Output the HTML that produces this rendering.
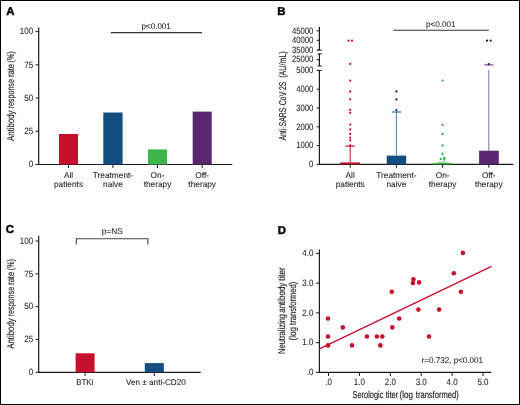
<!DOCTYPE html>
<html><head><meta charset="utf-8"><style>
html,body{margin:0;padding:0;background:#fff;}
body{width:520px;height:405px;overflow:hidden;}
svg{display:block;will-change:transform;text-rendering:geometricPrecision;}
text{stroke:#231f20;stroke-width:0.08px;}
text.ti{stroke-width:0.18px;}
svg{font-family:"Liberation Sans",sans-serif;}
</style></head><body>
<svg width="520" height="405" viewBox="0 0 520 405">
<rect x="0" y="0" width="520" height="405" fill="#fff"/>
<text x="6.3" y="15" font-size="11.4" text-anchor="start" fill="#000" font-weight="bold" style="stroke:#000;stroke-width:0.45px">A</text>
<line x1="38.7" y1="27.5" x2="38.7" y2="165.0" stroke="#1a1a1a" stroke-width="1.2" />
<line x1="38.1" y1="164.5" x2="232.3" y2="164.5" stroke="#1a1a1a" stroke-width="1.2" />
<line x1="35.5" y1="164.5" x2="38.7" y2="164.5" stroke="#1a1a1a" stroke-width="1" />
<text x="33.1" y="167.25" font-size="9.1" text-anchor="end" fill="#231f20" textLength="4.45" lengthAdjust="spacingAndGlyphs">0</text>
<line x1="35.5" y1="131.275" x2="38.7" y2="131.275" stroke="#1a1a1a" stroke-width="1" />
<text x="33.1" y="134.025" font-size="9.1" text-anchor="end" fill="#231f20" textLength="8.90" lengthAdjust="spacingAndGlyphs">25</text>
<line x1="35.5" y1="98.05" x2="38.7" y2="98.05" stroke="#1a1a1a" stroke-width="1" />
<text x="33.1" y="100.8" font-size="9.1" text-anchor="end" fill="#231f20" textLength="8.90" lengthAdjust="spacingAndGlyphs">50</text>
<line x1="35.5" y1="64.82499999999999" x2="38.7" y2="64.82499999999999" stroke="#1a1a1a" stroke-width="1" />
<text x="33.1" y="67.57499999999999" font-size="9.1" text-anchor="end" fill="#231f20" textLength="8.90" lengthAdjust="spacingAndGlyphs">75</text>
<line x1="35.5" y1="31.599999999999994" x2="38.7" y2="31.599999999999994" stroke="#1a1a1a" stroke-width="1" />
<text x="33.1" y="34.349999999999994" font-size="9.1" text-anchor="end" fill="#231f20" textLength="13.35" lengthAdjust="spacingAndGlyphs">100</text>
<rect x="59" y="134" width="19" height="30.5" fill="#c8102e"/>
<line x1="68.5" y1="164.5" x2="68.5" y2="168" stroke="#1a1a1a" stroke-width="1" />
<rect x="103.3" y="112.5" width="19.299999999999997" height="52.0" fill="#144e80"/>
<line x1="112.94999999999999" y1="164.5" x2="112.94999999999999" y2="168" stroke="#1a1a1a" stroke-width="1" />
<rect x="148" y="149.4" width="19" height="15.099999999999994" fill="#3db54a"/>
<line x1="157.5" y1="164.5" x2="157.5" y2="168" stroke="#1a1a1a" stroke-width="1" />
<rect x="192.7" y="111.6" width="19.0" height="52.900000000000006" fill="#5b2670"/>
<line x1="202.2" y1="164.5" x2="202.2" y2="168" stroke="#1a1a1a" stroke-width="1" />
<text x="68.5" y="177.5" font-size="8.3" text-anchor="middle" fill="#231f20" >All</text>
<text x="68.5" y="186.6" font-size="8.3" text-anchor="middle" fill="#231f20" >patients</text>
<text x="112.94999999999999" y="177.5" font-size="8.3" text-anchor="middle" fill="#231f20" >Treatment-</text>
<text x="112.94999999999999" y="186.6" font-size="8.3" text-anchor="middle" fill="#231f20" >naive</text>
<text x="157.5" y="177.5" font-size="8.3" text-anchor="middle" fill="#231f20" >On-</text>
<text x="157.5" y="186.6" font-size="8.3" text-anchor="middle" fill="#231f20" >therapy</text>
<text x="202.2" y="177.5" font-size="8.3" text-anchor="middle" fill="#231f20" >Off-</text>
<text x="202.2" y="186.6" font-size="8.3" text-anchor="middle" fill="#231f20" >therapy</text>
<line x1="110.8" y1="32.6" x2="202" y2="32.6" stroke="#333" stroke-width="1.1" />
<text x="156.2" y="29.0" font-size="8.3" text-anchor="middle" fill="#231f20"  textLength="29.2" lengthAdjust="spacingAndGlyphs">p&lt;0.001</text>
<text class="ti" transform="translate(14.0,125.7) rotate(-90)" font-size="9.9" text-anchor="middle" fill="#231f20" textLength="30.4" lengthAdjust="spacingAndGlyphs">Antibody</text>
<text class="ti" transform="translate(14.0,93.8) rotate(-90)" font-size="9.9" text-anchor="middle" fill="#231f20" textLength="29.4" lengthAdjust="spacingAndGlyphs">response</text>
<text class="ti" transform="translate(14.0,70.55) rotate(-90)" font-size="9.9" text-anchor="middle" fill="#231f20" textLength="13.1" lengthAdjust="spacingAndGlyphs">rate</text>
<text class="ti" transform="translate(14.0,56.9) rotate(-90)" font-size="9.9" text-anchor="middle" fill="#231f20" textLength="11.0" lengthAdjust="spacingAndGlyphs">(%)</text>
<text x="277.3" y="15" font-size="11.4" text-anchor="start" fill="#000" font-weight="bold" style="stroke:#000;stroke-width:0.45px">B</text>
<line x1="319.4" y1="26.7" x2="319.4" y2="50.1" stroke="#1a1a1a" stroke-width="1.2" />
<line x1="319.4" y1="53.8" x2="319.4" y2="66.0" stroke="#1a1a1a" stroke-width="1.2" />
<line x1="319.4" y1="70.4" x2="319.4" y2="164.9" stroke="#1a1a1a" stroke-width="1.2" />
<line x1="317.59999999999997" y1="50.1" x2="321.79999999999995" y2="50.1" stroke="#1a1a1a" stroke-width="1" />
<line x1="317.59999999999997" y1="53.8" x2="321.79999999999995" y2="53.8" stroke="#1a1a1a" stroke-width="1" />
<line x1="317.59999999999997" y1="66.0" x2="321.79999999999995" y2="66.0" stroke="#1a1a1a" stroke-width="1" />
<line x1="317.59999999999997" y1="70.4" x2="321.79999999999995" y2="70.4" stroke="#1a1a1a" stroke-width="1" />
<line x1="316.6" y1="30.8" x2="319.4" y2="30.8" stroke="#1a1a1a" stroke-width="1" />
<text x="313.4" y="33.55" font-size="9.1" text-anchor="end" fill="#231f20" textLength="21.50" lengthAdjust="spacingAndGlyphs">45000</text>
<line x1="316.6" y1="40.3" x2="319.4" y2="40.3" stroke="#1a1a1a" stroke-width="1" />
<text x="313.4" y="43.05" font-size="9.1" text-anchor="end" fill="#231f20" textLength="21.50" lengthAdjust="spacingAndGlyphs">40000</text>
<line x1="316.6" y1="50.1" x2="319.4" y2="50.1" stroke="#1a1a1a" stroke-width="1" />
<text x="313.4" y="52.85" font-size="9.1" text-anchor="end" fill="#231f20" textLength="21.50" lengthAdjust="spacingAndGlyphs">35000</text>
<line x1="316.6" y1="59.7" x2="319.4" y2="59.7" stroke="#1a1a1a" stroke-width="1" />
<text x="313.4" y="62.45" font-size="9.1" text-anchor="end" fill="#231f20" textLength="21.50" lengthAdjust="spacingAndGlyphs">25000</text>
<line x1="316.6" y1="70.4" x2="319.4" y2="70.4" stroke="#1a1a1a" stroke-width="1" />
<text x="313.4" y="73.15" font-size="9.1" text-anchor="end" fill="#231f20" textLength="17.20" lengthAdjust="spacingAndGlyphs">5000</text>
<line x1="316.6" y1="89.2" x2="319.4" y2="89.2" stroke="#1a1a1a" stroke-width="1" />
<text x="313.4" y="91.95" font-size="9.1" text-anchor="end" fill="#231f20" textLength="17.20" lengthAdjust="spacingAndGlyphs">4000</text>
<line x1="316.6" y1="108.0" x2="319.4" y2="108.0" stroke="#1a1a1a" stroke-width="1" />
<text x="313.4" y="110.75" font-size="9.1" text-anchor="end" fill="#231f20" textLength="17.20" lengthAdjust="spacingAndGlyphs">3000</text>
<line x1="316.6" y1="126.80000000000001" x2="319.4" y2="126.80000000000001" stroke="#1a1a1a" stroke-width="1" />
<text x="313.4" y="129.55" font-size="9.1" text-anchor="end" fill="#231f20" textLength="17.20" lengthAdjust="spacingAndGlyphs">2000</text>
<line x1="316.6" y1="145.6" x2="319.4" y2="145.6" stroke="#1a1a1a" stroke-width="1" />
<text x="313.4" y="148.35" font-size="9.1" text-anchor="end" fill="#231f20" textLength="17.20" lengthAdjust="spacingAndGlyphs">1000</text>
<line x1="316.6" y1="164.4" x2="319.4" y2="164.4" stroke="#1a1a1a" stroke-width="1" />
<text x="313.4" y="167.15" font-size="9.1" text-anchor="end" fill="#231f20" textLength="4.30" lengthAdjust="spacingAndGlyphs">0</text>
<line x1="318.79999999999995" y1="164.4" x2="513.3" y2="164.4" stroke="#1a1a1a" stroke-width="1.2" />
<rect x="340.2" y="162.4" width="19.80000000000001" height="2.0" fill="#c8102e"/>
<rect x="386.7" y="155.6" width="19.5" height="8.800000000000011" fill="#144e80"/>
<rect x="433" y="162.9" width="19.19999999999999" height="1.5" fill="#3db54a"/>
<rect x="479.1" y="150.7" width="19.69999999999999" height="13.700000000000017" fill="#5b2670"/>
<line x1="350.2" y1="164.4" x2="350.2" y2="167.8" stroke="#1a1a1a" stroke-width="1" />
<line x1="396.4" y1="164.4" x2="396.4" y2="167.8" stroke="#1a1a1a" stroke-width="1" />
<line x1="442.6" y1="164.4" x2="442.6" y2="167.8" stroke="#1a1a1a" stroke-width="1" />
<line x1="488.8" y1="164.4" x2="488.8" y2="167.8" stroke="#1a1a1a" stroke-width="1" />
<text x="350.2" y="177.5" font-size="8.3" text-anchor="middle" fill="#231f20" >All</text>
<text x="350.2" y="186.6" font-size="8.3" text-anchor="middle" fill="#231f20" >patients</text>
<text x="396.4" y="177.5" font-size="8.3" text-anchor="middle" fill="#231f20" >Treatment-</text>
<text x="396.4" y="186.6" font-size="8.3" text-anchor="middle" fill="#231f20" >naive</text>
<text x="442.6" y="177.5" font-size="8.3" text-anchor="middle" fill="#231f20" >On-</text>
<text x="442.6" y="186.6" font-size="8.3" text-anchor="middle" fill="#231f20" >therapy</text>
<text x="488.8" y="177.5" font-size="8.3" text-anchor="middle" fill="#231f20" >Off-</text>
<text x="488.8" y="186.6" font-size="8.3" text-anchor="middle" fill="#231f20" >therapy</text>
<line x1="350.2" y1="146.1" x2="350.2" y2="162.4" stroke="#c8102e" stroke-width="1" />
<line x1="345.4" y1="146.1" x2="354.8" y2="146.1" stroke="#c8102e" stroke-width="1.2" />
<line x1="396.4" y1="112" x2="396.4" y2="155.6" stroke="#4f7fae" stroke-width="1" />
<line x1="391.8" y1="112" x2="401" y2="112" stroke="#4f7fae" stroke-width="1.4" />
<line x1="488.8" y1="70" x2="488.8" y2="150.7" stroke="#8c66a6" stroke-width="1" />
<line x1="484.3" y1="64.9" x2="493.5" y2="64.9" stroke="#8c66a6" stroke-width="1.4" />
<line x1="438" y1="162.1" x2="447" y2="162.1" stroke="#7ccf85" stroke-width="1" />
<circle cx="350.2" cy="63.9" r="1.15" fill="#c8102e"/>
<circle cx="350.2" cy="80.7" r="1.15" fill="#c8102e"/>
<circle cx="350.2" cy="91.5" r="1.15" fill="#c8102e"/>
<circle cx="350.2" cy="99.3" r="1.15" fill="#c8102e"/>
<circle cx="350.2" cy="109.8" r="1.15" fill="#c8102e"/>
<circle cx="350.2" cy="112.8" r="1.15" fill="#c8102e"/>
<circle cx="350.2" cy="124.6" r="1.15" fill="#c8102e"/>
<circle cx="350.2" cy="129.4" r="1.15" fill="#c8102e"/>
<circle cx="350.2" cy="133.9" r="1.15" fill="#c8102e"/>
<circle cx="350.2" cy="137.6" r="1.15" fill="#c8102e"/>
<circle cx="350.2" cy="140.4" r="1.15" fill="#c8102e"/>
<circle cx="350.2" cy="145.4" r="1.15" fill="#c8102e"/>
<circle cx="348.5" cy="40.7" r="1.15" fill="#c8102e"/>
<circle cx="352" cy="40.7" r="1.15" fill="#c8102e"/>
<circle cx="396.4" cy="91.5" r="1.15" fill="#0d2b5e"/>
<circle cx="396.4" cy="99.5" r="1.15" fill="#0d2b5e"/>
<circle cx="396.4" cy="110.1" r="1.15" fill="#0d2b5e"/>
<circle cx="442.6" cy="80.6" r="1.15" fill="#2fab40"/>
<circle cx="442.6" cy="124.8" r="1.15" fill="#2fab40"/>
<circle cx="442.6" cy="134" r="1.15" fill="#2fab40"/>
<circle cx="442.6" cy="145.5" r="1.15" fill="#2fab40"/>
<circle cx="442.6" cy="154" r="1.15" fill="#2fab40"/>
<circle cx="440.8" cy="158.9" r="1.15" fill="#2fab40"/>
<circle cx="444.3" cy="157.7" r="1.15" fill="#2fab40"/>
<circle cx="444.3" cy="159.5" r="1.15" fill="#2fab40"/>
<circle cx="487" cy="40.7" r="1.15" fill="#3d1052"/>
<circle cx="490.6" cy="40.7" r="1.15" fill="#3d1052"/>
<circle cx="488.8" cy="64.2" r="1.15" fill="#3d1052"/>
<line x1="393.2" y1="30.3" x2="488.9" y2="30.3" stroke="#333" stroke-width="1.1" />
<text x="440.7" y="27.1" font-size="8.3" text-anchor="middle" fill="#231f20"  textLength="29.6" lengthAdjust="spacingAndGlyphs">p&lt;0.001</text>
<text class="ti" transform="translate(285.7,111.1) rotate(-90)" font-size="9.9" text-anchor="middle" fill="#231f20" textLength="59.0" lengthAdjust="spacingAndGlyphs">Anti<tspan fill-opacity="0.45" stroke-opacity="0.45">-</tspan>SARS<tspan fill-opacity="0.45" stroke-opacity="0.45">-</tspan>CoV<tspan fill-opacity="0.45" stroke-opacity="0.45">-</tspan>2S</text>
<text class="ti" transform="translate(285.7,64.55) rotate(-90)" font-size="9.9" text-anchor="middle" fill="#231f20" textLength="26.6" lengthAdjust="spacingAndGlyphs">(AU/mL)</text>
<text x="5.7" y="233.2" font-size="11.4" text-anchor="start" fill="#000" font-weight="bold" style="stroke:#000;stroke-width:0.45px">C</text>
<line x1="38.7" y1="235.7" x2="38.7" y2="372.8" stroke="#1a1a1a" stroke-width="1.2" />
<line x1="38.1" y1="372.3" x2="200.8" y2="372.3" stroke="#1a1a1a" stroke-width="1.2" />
<line x1="35.5" y1="372.3" x2="38.7" y2="372.3" stroke="#1a1a1a" stroke-width="1" />
<text x="33.1" y="375.05" font-size="9.1" text-anchor="end" fill="#231f20" textLength="4.45" lengthAdjust="spacingAndGlyphs">0</text>
<line x1="35.5" y1="339.475" x2="38.7" y2="339.475" stroke="#1a1a1a" stroke-width="1" />
<text x="33.1" y="342.225" font-size="9.1" text-anchor="end" fill="#231f20" textLength="8.90" lengthAdjust="spacingAndGlyphs">25</text>
<line x1="35.5" y1="306.65" x2="38.7" y2="306.65" stroke="#1a1a1a" stroke-width="1" />
<text x="33.1" y="309.4" font-size="9.1" text-anchor="end" fill="#231f20" textLength="8.90" lengthAdjust="spacingAndGlyphs">50</text>
<line x1="35.5" y1="273.825" x2="38.7" y2="273.825" stroke="#1a1a1a" stroke-width="1" />
<text x="33.1" y="276.575" font-size="9.1" text-anchor="end" fill="#231f20" textLength="8.90" lengthAdjust="spacingAndGlyphs">75</text>
<line x1="35.5" y1="241.0" x2="38.7" y2="241.0" stroke="#1a1a1a" stroke-width="1" />
<text x="33.1" y="243.75" font-size="9.1" text-anchor="end" fill="#231f20" textLength="13.35" lengthAdjust="spacingAndGlyphs">100</text>
<rect x="75.6" y="353.3" width="19" height="19.0" fill="#c8102e"/>
<rect x="144.8" y="363.1" width="19" height="9.199999999999989" fill="#144e80"/>
<line x1="85.1" y1="372.3" x2="85.1" y2="376" stroke="#1a1a1a" stroke-width="1" />
<line x1="154.3" y1="372.3" x2="154.3" y2="376" stroke="#1a1a1a" stroke-width="1" />
<text x="84.8" y="384.7" font-size="8.3" text-anchor="middle" fill="#231f20"  textLength="17.2" lengthAdjust="spacingAndGlyphs">BTKi</text>
<text x="155.9" y="384.7" font-size="8.3" text-anchor="middle" fill="#231f20"  textLength="59.7" lengthAdjust="spacingAndGlyphs">Ven ± anti-CD20</text>
<path d="M76.3,244.6 V238.7 H147.9 V244.6" fill="none" stroke="#444" stroke-width="1.1"/>
<text x="112.2" y="233.8" font-size="8.3" text-anchor="middle" fill="#231f20"  textLength="21" lengthAdjust="spacingAndGlyphs">p=NS</text>
<text class="ti" transform="translate(14.0,333.5) rotate(-90)" font-size="9.9" text-anchor="middle" fill="#231f20" textLength="30.4" lengthAdjust="spacingAndGlyphs">Antibody</text>
<text class="ti" transform="translate(14.0,301.6) rotate(-90)" font-size="9.9" text-anchor="middle" fill="#231f20" textLength="29.4" lengthAdjust="spacingAndGlyphs">response</text>
<text class="ti" transform="translate(14.0,278.35) rotate(-90)" font-size="9.9" text-anchor="middle" fill="#231f20" textLength="13.1" lengthAdjust="spacingAndGlyphs">rate</text>
<text class="ti" transform="translate(14.0,264.7) rotate(-90)" font-size="9.9" text-anchor="middle" fill="#231f20" textLength="11.0" lengthAdjust="spacingAndGlyphs">(%)</text>
<text x="277.7" y="234.4" font-size="11.4" text-anchor="start" fill="#000" font-weight="bold" style="stroke:#000;stroke-width:0.45px">D</text>
<line x1="319.4" y1="249.6" x2="319.4" y2="372.9" stroke="#1a1a1a" stroke-width="1.2" />
<line x1="318.79999999999995" y1="372.4" x2="491.3" y2="372.4" stroke="#1a1a1a" stroke-width="1.2" />
<line x1="315.9" y1="372.4" x2="319.4" y2="372.4" stroke="#1a1a1a" stroke-width="1" />
<text x="313.4" y="375.15" font-size="9.1" text-anchor="end" fill="#231f20" textLength="6.65" lengthAdjust="spacingAndGlyphs">.0</text>
<line x1="315.9" y1="342.65" x2="319.4" y2="342.65" stroke="#1a1a1a" stroke-width="1" />
<text x="313.4" y="345.4" font-size="9.1" text-anchor="end" fill="#231f20" textLength="11.10" lengthAdjust="spacingAndGlyphs">1.0</text>
<line x1="315.9" y1="312.9" x2="319.4" y2="312.9" stroke="#1a1a1a" stroke-width="1" />
<text x="313.4" y="315.65" font-size="9.1" text-anchor="end" fill="#231f20" textLength="11.10" lengthAdjust="spacingAndGlyphs">2.0</text>
<line x1="315.9" y1="283.15" x2="319.4" y2="283.15" stroke="#1a1a1a" stroke-width="1" />
<text x="313.4" y="285.9" font-size="9.1" text-anchor="end" fill="#231f20" textLength="11.10" lengthAdjust="spacingAndGlyphs">3.0</text>
<line x1="315.9" y1="253.39999999999998" x2="319.4" y2="253.39999999999998" stroke="#1a1a1a" stroke-width="1" />
<text x="313.4" y="256.15" font-size="9.1" text-anchor="end" fill="#231f20" textLength="11.10" lengthAdjust="spacingAndGlyphs">4.0</text>
<line x1="328.5" y1="372.4" x2="328.5" y2="376" stroke="#1a1a1a" stroke-width="1" />
<text x="328.5" y="385.2" font-size="9.1" text-anchor="middle" fill="#231f20" textLength="6.65" lengthAdjust="spacingAndGlyphs">.0</text>
<line x1="359.4" y1="372.4" x2="359.4" y2="376" stroke="#1a1a1a" stroke-width="1" />
<text x="359.4" y="385.2" font-size="9.1" text-anchor="middle" fill="#231f20" textLength="11.10" lengthAdjust="spacingAndGlyphs">1.0</text>
<line x1="390.3" y1="372.4" x2="390.3" y2="376" stroke="#1a1a1a" stroke-width="1" />
<text x="390.3" y="385.2" font-size="9.1" text-anchor="middle" fill="#231f20" textLength="11.10" lengthAdjust="spacingAndGlyphs">2.0</text>
<line x1="421.2" y1="372.4" x2="421.2" y2="376" stroke="#1a1a1a" stroke-width="1" />
<text x="421.2" y="385.2" font-size="9.1" text-anchor="middle" fill="#231f20" textLength="11.10" lengthAdjust="spacingAndGlyphs">3.0</text>
<line x1="452.1" y1="372.4" x2="452.1" y2="376" stroke="#1a1a1a" stroke-width="1" />
<text x="452.1" y="385.2" font-size="9.1" text-anchor="middle" fill="#231f20" textLength="11.10" lengthAdjust="spacingAndGlyphs">4.0</text>
<line x1="483.0" y1="372.4" x2="483.0" y2="376" stroke="#1a1a1a" stroke-width="1" />
<text x="483.0" y="385.2" font-size="9.1" text-anchor="middle" fill="#231f20" textLength="11.10" lengthAdjust="spacingAndGlyphs">5.0</text>
<text x="367.95" y="398.0" font-size="9.9" text-anchor="middle" fill="#231f20" class="ti" textLength="30.9" lengthAdjust="spacingAndGlyphs">Serologic</text>
<text x="392.04999999999995" y="398.0" font-size="9.9" text-anchor="middle" fill="#231f20" class="ti" textLength="12.7" lengthAdjust="spacingAndGlyphs">titer</text>
<text x="406.3" y="398.0" font-size="9.9" text-anchor="middle" fill="#231f20" class="ti" textLength="13.4" lengthAdjust="spacingAndGlyphs">(log</text>
<text x="437.25" y="398.0" font-size="9.9" text-anchor="middle" fill="#231f20" class="ti" textLength="42.9" lengthAdjust="spacingAndGlyphs">transformed)</text>
<text class="ti" transform="translate(284.7,334.0) rotate(-90)" font-size="9.9" text-anchor="middle" fill="#231f20" textLength="40.2" lengthAdjust="spacingAndGlyphs">Neutralizing</text>
<text class="ti" transform="translate(284.7,297.7) rotate(-90)" font-size="9.9" text-anchor="middle" fill="#231f20" textLength="30.0" lengthAdjust="spacingAndGlyphs">antibody</text>
<text class="ti" transform="translate(284.7,274.0) rotate(-90)" font-size="9.9" text-anchor="middle" fill="#231f20" textLength="13.3" lengthAdjust="spacingAndGlyphs">titer</text>
<text class="ti" transform="translate(295.9,333.7) rotate(-90)" font-size="9.9" text-anchor="middle" fill="#231f20" textLength="13.5" lengthAdjust="spacingAndGlyphs">(log</text>
<text class="ti" transform="translate(295.9,303.3) rotate(-90)" font-size="9.9" text-anchor="middle" fill="#231f20" textLength="43.2" lengthAdjust="spacingAndGlyphs">transformed)</text>
<line x1="319.4" y1="348.8" x2="491.5" y2="266.3" stroke="#c8102e" stroke-width="1.4" />
<circle cx="328" cy="318.5" r="2.3" fill="#c8102e"/>
<circle cx="342.8" cy="327.4" r="2.3" fill="#c8102e"/>
<circle cx="328" cy="336.5" r="2.3" fill="#c8102e"/>
<circle cx="328" cy="345.4" r="2.3" fill="#c8102e"/>
<circle cx="352" cy="345.4" r="2.3" fill="#c8102e"/>
<circle cx="366.9" cy="336.5" r="2.3" fill="#c8102e"/>
<circle cx="376.9" cy="336.5" r="2.3" fill="#c8102e"/>
<circle cx="382.3" cy="336.5" r="2.3" fill="#c8102e"/>
<circle cx="380.3" cy="345.4" r="2.3" fill="#c8102e"/>
<circle cx="392.3" cy="327.4" r="2.3" fill="#c8102e"/>
<circle cx="399.2" cy="318.5" r="2.3" fill="#c8102e"/>
<circle cx="391.8" cy="291.8" r="2.3" fill="#c8102e"/>
<circle cx="413.4" cy="279.2" r="2.3" fill="#c8102e"/>
<circle cx="412.9" cy="283.0" r="2.3" fill="#c8102e"/>
<circle cx="419.1" cy="282.4" r="2.3" fill="#c8102e"/>
<circle cx="453.8" cy="273.3" r="2.3" fill="#c8102e"/>
<circle cx="462.9" cy="252.9" r="2.3" fill="#c8102e"/>
<circle cx="460.9" cy="291.8" r="2.3" fill="#c8102e"/>
<circle cx="418.4" cy="309.6" r="2.3" fill="#c8102e"/>
<circle cx="439.1" cy="309.6" r="2.3" fill="#c8102e"/>
<circle cx="429" cy="336.5" r="2.3" fill="#c8102e"/>
<text x="421.5" y="363.2" font-size="8.3" text-anchor="start" fill="#231f20"  textLength="61.6" lengthAdjust="spacingAndGlyphs">r=0.732, p&lt;0.001</text>
<rect x="0.5" y="0.5" width="519" height="404" fill="none" stroke="#000" stroke-width="1"/>
</svg>
</body></html>
